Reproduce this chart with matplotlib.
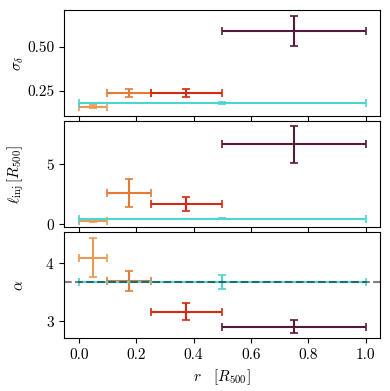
import numpy as np
import matplotlib
matplotlib.use('Agg')
from matplotlib import pyplot as plt

plt.rcParams['font.family'] = 'serif'
plt.rcParams['font.serif'] = ['cmr10']
plt.rcParams['mathtext.fontset'] = 'cm'
plt.rcParams['axes.formatter.use_mathtext'] = True
plt.rcParams['font.size'] = 11

# radial bins [R500]
r_lo = [0.0, 0.1, 0.25, 0.5, 0.0]
r_hi = [0.1, 0.25, 0.5, 1.0, 1.0]
colors = ['#eb9a55', '#e67a32', '#d42a12', '#561a3c', '#4ad6d2']

sigma = [0.157, 0.235, 0.235, 0.595, 0.178]
sigma_err = [0.010, 0.022, 0.022, 0.087, 0.004]

l_inj = [0.25, 2.55, 1.65, 6.6, 0.42]
l_inj_err = [0.08, 1.15, 0.6, 1.5, 0.04]

alpha = [4.1, 3.69, 3.16, 2.9, 3.67]
alpha_err = [0.34, 0.17, 0.15, 0.11, 0.12]
alpha_ref = 3.67

fig, axes = plt.subplots(3, 1, figsize=(3.9, 3.91), dpi=100, sharex=True)
fig.subplots_adjust(left=0.165, right=0.975, top=0.975, bottom=0.135, hspace=0.05)

data = [(sigma, sigma_err), (l_inj, l_inj_err), (alpha, alpha_err)]
for ax, (y, yerr) in zip(axes, data):
    for i in range(len(r_lo)):
        xc = 0.5 * (r_lo[i] + r_hi[i])
        xe = 0.5 * (r_hi[i] - r_lo[i])
        ax.errorbar(xc, y[i], xerr=xe, yerr=yerr[i], color=colors[i],
                    capsize=3, elinewidth=1.5, capthick=1.2, fmt='none')

axes[2].axhline(alpha_ref, color='k', alpha=0.5, ls='--', lw=1.5, zorder=5)

axes[0].set_ylim(0.105, 0.715)
axes[0].set_yticks([0.25, 0.50])
axes[0].set_yticklabels(['0.25', '0.50'])
axes[0].set_ylabel(r'$\sigma_\delta$')

axes[1].set_ylim(-0.25, 8.55)
axes[1].set_yticks([0, 5])
axes[1].set_ylabel(r'$\ell_{\rm inj}\,[R_{500}]$')

axes[2].set_ylim(2.7, 4.54)
axes[2].set_yticks([3, 4])
axes[2].set_ylabel(r'$\alpha$')

axes[2].set_xlim(-0.05, 1.05)
axes[2].set_xticks([0.0, 0.2, 0.4, 0.6, 0.8, 1.0])
axes[2].set_xticklabels(['0.0', '0.2', '0.4', '0.6', '0.8', '1.0'])
axes[2].set_xlabel(r'$r\quad[R_{500}]$')

for ax in axes:
    ax.yaxis.set_label_coords(-0.12, 0.5)

plt.savefig('out.png', dpi=100)
